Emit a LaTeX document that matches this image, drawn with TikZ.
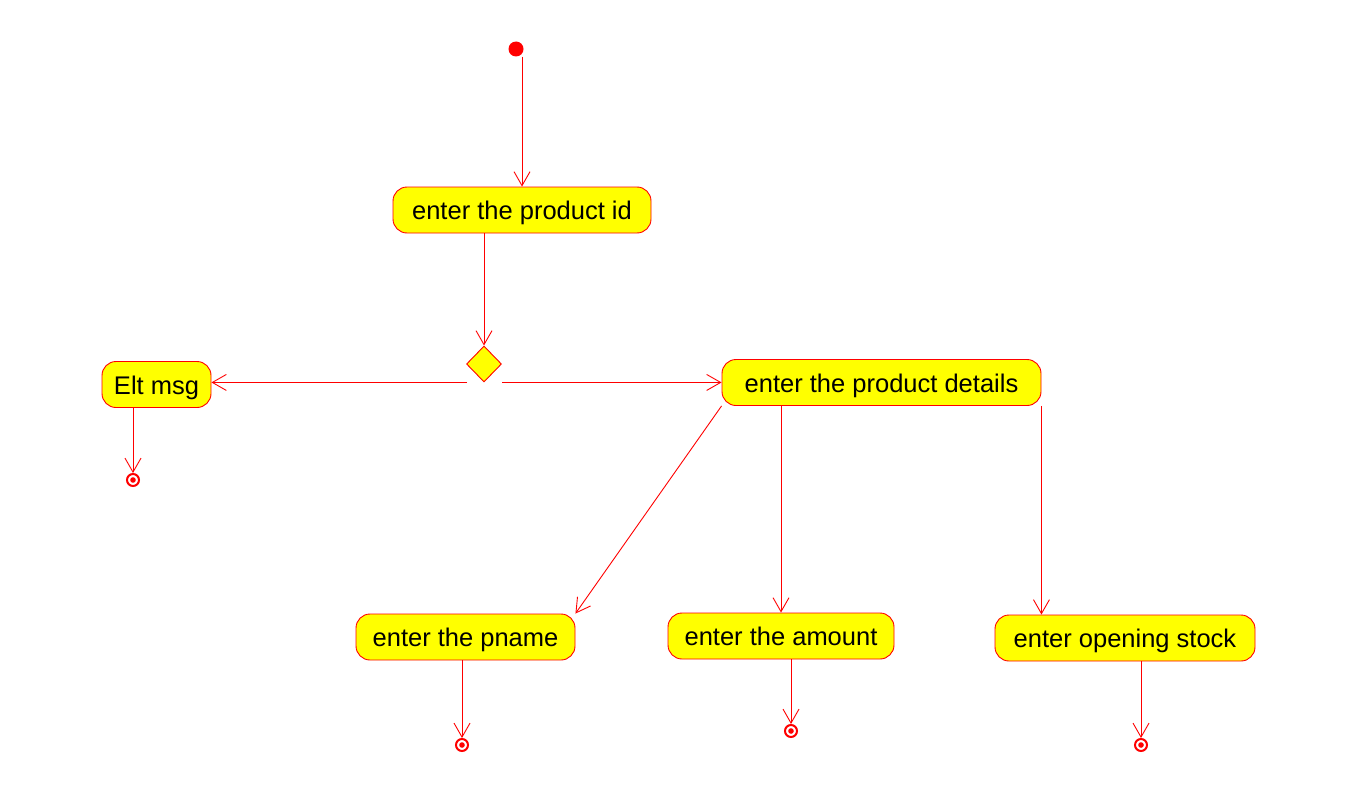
\documentclass[tikz,border=0pt]{standalone}
\usepackage{fontspec}
\setmainfont{Liberation Sans}
\usetikzlibrary{arrows.meta,shapes.geometric}
\definecolor{ured}{RGB}{255,0,0}
\definecolor{uyel}{RGB}{255,255,0}
\begin{document}
\begin{tikzpicture}[x=1pt,y=-1pt,
  act/.style={draw=ured,fill=uyel,rounded corners=14pt,line width=0.9pt,inner sep=0pt,
    minimum height=46pt,text height=19pt,text depth=0pt,font=\fontsize{25.5}{30}\selectfont},
  arr/.style={draw=ured,line width=0.9pt,-{Straight Barb[length=14pt,width=16pt,line width=0.9pt]}},
  startdot/.style={circle,fill=ured,inner sep=0pt,minimum size=15pt},
  enddot/.style={circle,draw=ured,line width=2pt,fill=white,inner sep=0pt,minimum size=12pt,
    path picture={\fill[ured] (path picture bounding box.center) circle (2.8pt);}},
  dec/.style={diamond,draw=ured,fill=uyel,line width=0.9pt,inner sep=0pt,minimum width=35pt,minimum height=36pt,aspect=1}]
\useasboundingbox (0,0) rectangle (1351,789);
\node[startdot] (s) at (516,49) {};
\node[act,minimum width=258pt] (pid) at (522,210) {enter the product id};
\node[dec] (d) at (484,364) {};
\node[act,minimum width=109pt] (elt) at (156.5,384.5) {Elt msg};
\node[act,minimum width=319pt] (det) at (881.5,382.5) {enter the product details};
\node[act,minimum width=219pt] (pn) at (465.5,637) {enter the pname};
\node[act,minimum width=226pt] (am) at (781,636) {enter the amount};
\node[act,minimum width=260pt] (st) at (1125,638) {enter opening stock};
\node[enddot] (e1) at (133,480) {};
\node[enddot] (e2) at (462,745) {};
\node[enddot] (e3) at (791,731) {};
\node[enddot] (e4) at (1141,745) {};
\draw[arr] (s.south -| pid.north) -- (pid.north);
\draw[arr] (pid.south -| d.north) -- (d.north);
\draw[arr] ([xshift=-17pt]d.south) -- (elt.east |- d.south);
\draw[arr] ([xshift=18pt]d.south) -- (det.west |- d.south);
\draw[arr] (elt.south -| e1.north) -- (e1.north);
\draw[arr] (det.south west) -- (pn.north east);
\draw[arr] (det.south -| am.north) -- (am.north);
\draw[arr] (det.south east) -- (det.south east |- st.north);
\draw[arr] (pn.south -| e2.north) -- (e2.north);
\draw[arr] ([xshift=10pt]am.south) -- (e3.north);
\draw[arr] (st.south -| e4.north) -- (e4.north);
\end{tikzpicture}
\end{document}
